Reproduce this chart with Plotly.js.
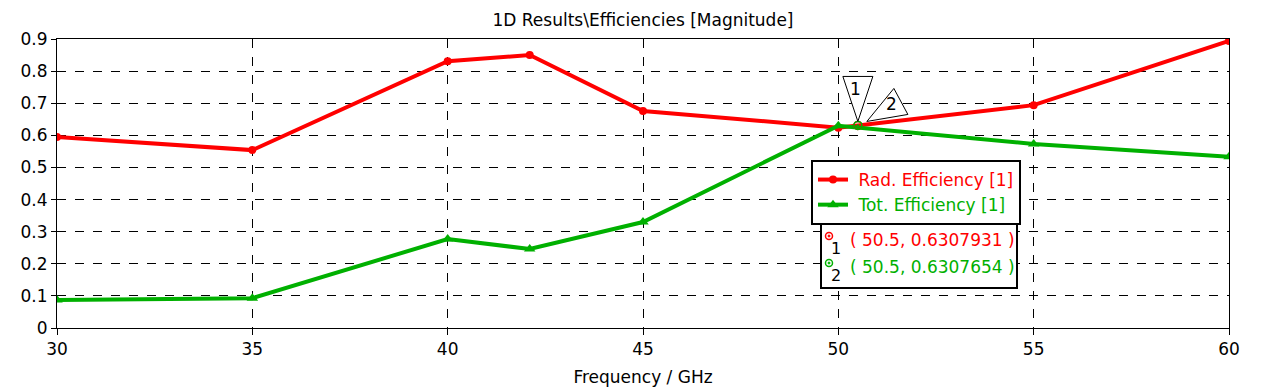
<!DOCTYPE html>
<html><head><meta charset="utf-8">
<script src="https://cdn.plot.ly/plotly-3.0.1.min.js"></script>
<style>html,body{margin:0;padding:0;background:#fff}#c{width:1264px;height:391px}</style>
</head><body><div id="c"></div>
<script>
const freq = [30, 35, 40, 42.1, 45, 50, 55, 60];
const radEff = [0.595, 0.554, 0.831, 0.850, 0.676, 0.624, 0.694, 0.894];
const totEff = [0.087, 0.093, 0.277, 0.246, 0.330, 0.630, 0.573, 0.533];
const markerX = [50.5, 50.5];
const markerY = [0.6307931, 0.6307654];
const markerLabels = ['1', '2'];
const seriesNames = ['Rad. Efficiency [1]', 'Tot. Efficiency [1]'];
const xTicks = [30, 35, 40, 45, 50, 55, 60];
const yTicks = [0, 0.1, 0.2, 0.3, 0.4, 0.5, 0.6, 0.7, 0.8, 0.9];

const RED = '#ff0000', GREEN = '#00b000';
const FONT = 'DejaVu Sans, Verdana, sans-serif';
// pixel -> paper helpers for the plot box (l=57, w=1172, t=39, h=289)
const PX = p => (p - 57) / 1172;
const PY = p => (328 - p) / 289;

const traces = [
  {x: freq, y: radEff, type: 'scatter', mode: 'lines+markers', name: '&nbsp;<span style="color:'+RED+'">'+seriesNames[0]+'</span>',
   line: {color: RED, width: 4}, marker: {symbol: 'circle', size: 8, color: RED}},
  {x: freq, y: totEff, type: 'scatter', mode: 'lines+markers', name: '&nbsp;<span style="color:'+GREEN+'">'+seriesNames[1]+'</span>',
   line: {color: GREEN, width: 4}, marker: {symbol: 'triangle-up', size: 10, color: GREEN}},
  {x: [markerX[0]], y: [markerY[0]], type: 'scatter', mode: 'markers', showlegend: false,
   marker: {symbol: 'circle-open-dot', size: 8, color: RED, line: {width: 1.5}}},
  {x: [markerX[1]], y: [markerY[1]], type: 'scatter', mode: 'markers', showlegend: false,
   marker: {symbol: 'circle-open-dot', size: 8, color: GREEN, line: {width: 1.5}}}
];

const cols = [RED, GREEN];
const boxAnn = [];
const boxShapes = [];
const lineY = [240, 267];
for (let i = 0; i < 2; i++) {
  boxShapes.push({type: 'circle', xref: 'paper', yref: 'paper', xsizemode: 'pixel', ysizemode: 'pixel',
                  xanchor: PX(829), yanchor: PY(lineY[i] - 4), x0: -3.5, x1: 3.5, y0: -3.5, y1: 3.5,
                  line: {color: cols[i], width: 1.5}, fillcolor: 'rgba(0,0,0,0)', layer: 'above'});
  boxShapes.push({type: 'circle', xref: 'paper', yref: 'paper', xsizemode: 'pixel', ysizemode: 'pixel',
                  xanchor: PX(829), yanchor: PY(lineY[i] - 4), x0: -1, x1: 1, y0: -1, y1: 1,
                  line: {color: cols[i], width: 1}, fillcolor: cols[i], layer: 'above'});
  boxAnn.push({x: PX(836), y: PY(lineY[i] + 8), xref: 'paper', yref: 'paper', xanchor: 'center', yanchor: 'middle', showarrow: false,
               text: markerLabels[i], font: {family: FONT, size: 16, color: '#000'}});
  boxAnn.push({x: PX(848), y: PY(lineY[i]), xref: 'paper', yref: 'paper', xanchor: 'left', yanchor: 'middle', showarrow: false,
               text: '( ' + markerX[i] + ', ' + markerY[i] + ' )', font: {family: FONT, size: 17, color: cols[i]}});
}

const layout = {
  width: 1264, height: 391,
  margin: {l: 57, r: 35, t: 39, b: 63},
  paper_bgcolor: '#fff', plot_bgcolor: '#fff',
  font: {family: FONT, size: 17, color: '#000'},
  title: {text: '1D Results\\Efficiencies [Magnitude]', font: {family: FONT, size: 17, color: '#000'}, xref: 'paper', x: 0.5, xanchor: 'center', y: 0.948, yanchor: 'middle'},
  showlegend: true,
  legend: {x: PX(811), y: PY(160), xanchor: 'left', yanchor: 'top', bgcolor: '#fff', bordercolor: '#000', borderwidth: 2,
           font: {family: FONT, size: 17}, tracegroupgap: 0, itemwidth: 30},
  xaxis: {range: [30, 60], tickvals: xTicks, ticktext: xTicks.map(String), showgrid: true, gridcolor: '#000', griddash: 'dash', gridwidth: 1,
          zeroline: false, showline: true, linecolor: '#000', linewidth: 1, mirror: true, ticks: 'outside', ticklen: 6, tickcolor: '#000',
          title: {text: 'Frequency / GHz', font: {family: FONT, size: 17}, standoff: 12}, tickfont: {family: FONT, size: 17}},
  yaxis: {range: [0, 0.9], tickvals: yTicks, ticktext: yTicks.map(v => v === 0 ? '0' : v.toFixed(1)), showgrid: true, gridcolor: '#000', griddash: 'dash', gridwidth: 1,
          zeroline: false, showline: true, linecolor: '#000', linewidth: 1, mirror: true, ticks: 'outside', ticklen: 5, tickcolor: '#000',
          tickfont: {family: FONT, size: 17}},
  shapes: [
    {type: 'path', xref: 'x', yref: 'y', xsizemode: 'pixel', ysizemode: 'pixel', xanchor: markerX[0], yanchor: markerY[0],
     path: 'M 0 4 L -15 49 L 15 49 Z', line: {color: '#000', width: 1}, fillcolor: '#fff'},
    {type: 'path', xref: 'x', yref: 'y', xsizemode: 'pixel', ysizemode: 'pixel', xanchor: markerX[1], yanchor: markerY[1],
     path: 'M 9 4 L 36 37 L 50 11 Z', line: {color: '#000', width: 1}, fillcolor: '#fff'},
    {type: 'rect', xref: 'paper', yref: 'paper', x0: PX(821), x1: PX(1017), y0: PY(288), y1: PY(220),
     line: {color: '#000', width: 2}, fillcolor: '#fff', layer: 'above'}
  ].concat(boxShapes),
  annotations: [
    {x: markerX[0], y: markerY[0], xref: 'x', yref: 'y', text: markerLabels[0], showarrow: false, xshift: -2, yshift: 36, font: {family: FONT, size: 17}},
    {x: markerX[1], y: markerY[1], xref: 'x', yref: 'y', text: markerLabels[1], showarrow: false, xshift: 34, yshift: 21, font: {family: FONT, size: 17}}
  ].concat(boxAnn)
};
Plotly.newPlot('c', traces, layout, {displayModeBar: false, staticPlot: true});
</script></body></html>
